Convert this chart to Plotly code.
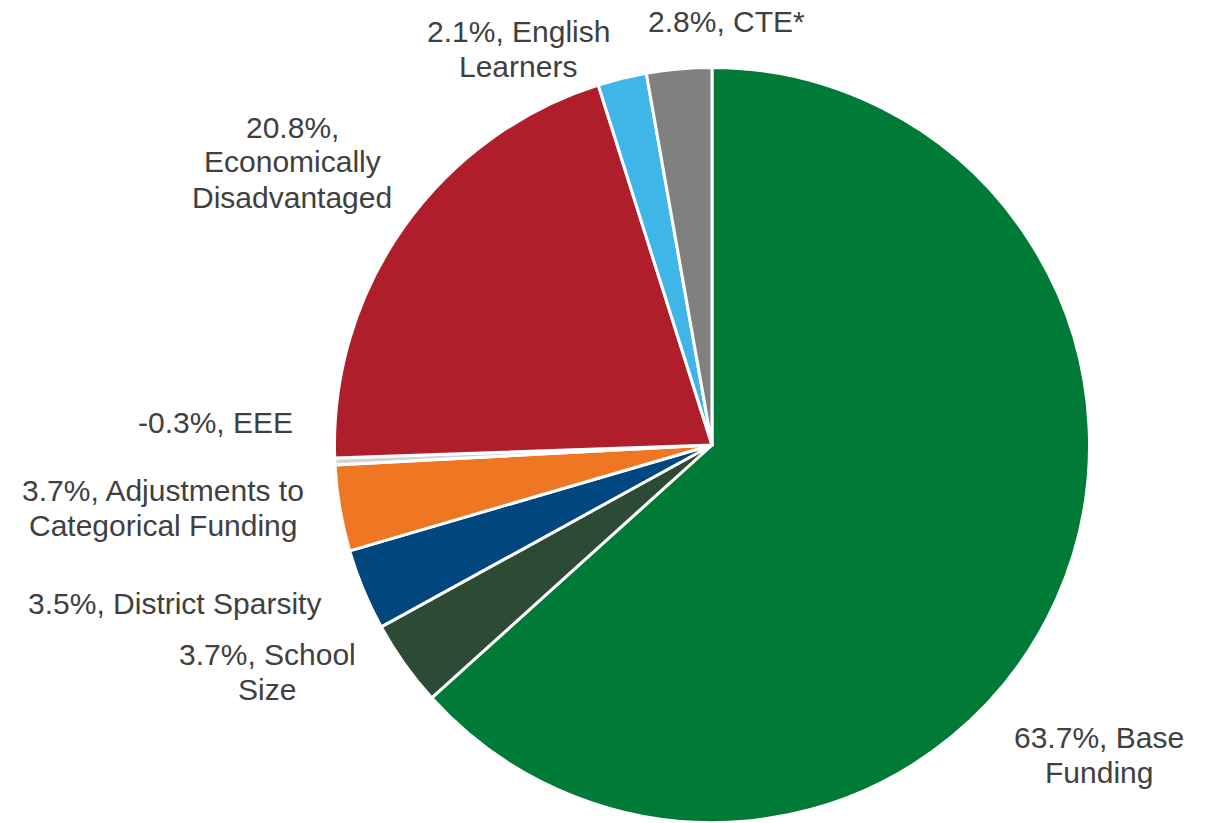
import numpy as np
import plotly.graph_objects as go

# ---- data ----
categories = ["Base Funding", "School Size", "District Sparsity",
              "Adjustments to Categorical Funding", "EEE",
              "Economically Disadvantaged", "English Learners", "CTE*"]
shares = [63.7, 3.7, 3.5, 3.7, -0.3, 20.8, 2.1, 2.8]

# ---- styles ----
colors = ["#007A37", "#2C4A34", "#00467F", "#EF7622", "#D4D4D4",
          "#B01E2B", "#3FB6E8", "#808080"]
# how each label is broken into lines ("{p}" = percentage text)
label_lines = {
    "Base Funding": ["{p}, Base", "Funding"],
    "School Size": ["{p}, School", "Size"],
    "District Sparsity": ["{p}, District Sparsity"],
    "Adjustments to Categorical Funding": ["{p}, Adjustments to", "Categorical Funding"],
    "EEE": ["{p}, EEE"],
    "Economically Disadvantaged": ["{p},", "Economically", "Disadvantaged"],
    "English Learners": ["{p}, English", "Learners"],
    "CTE*": ["{p}, CTE*"],
}
# label block centres in page pixels (x, y from top)
label_pos = {
    "Base Funding": (1099, 755),
    "School Size": (267, 672),
    "District Sparsity": (174, 603),
    "Adjustments to Categorical Funding": (163, 508),
    "EEE": (215, 422),
    "Economically Disadvantaged": (292, 162),
    "English Learners": (518, 49),
    "CTE*": (727, 22),
}
LINE_H = 35
PAGE_OFF = 8          # default body margin of the html page
W, H = 1207, 823
cx, cy, r = 712, 445, 377.5


def to_paper(px, py):
    return (px - PAGE_OFF) / W, 1 - (py - PAGE_OFF) / H


x0, _ = to_paper(cx - r, 0)
x1, _ = to_paper(cx + r, 0)
_, y0 = to_paper(0, cy + r)
_, y1 = to_paper(0, cy - r)

fig = go.Figure(go.Pie(
    labels=categories,
    values=np.abs(shares),
    sort=False,
    direction="clockwise",
    rotation=0,
    textinfo="none",
    marker=dict(colors=colors, line=dict(color="white", width=3)),
    domain=dict(x=[x0, x1], y=[y0, y1]),
    showlegend=False,
))

for name, v in zip(categories, shares):
    px, py = label_pos[name]
    lines = label_lines[name]
    n = len(lines)
    for i, ln in enumerate(lines):
        ly = py + (i - (n - 1) / 2) * LINE_H
        xp, yp = to_paper(px, ly)
        fig.add_annotation(x=xp, y=yp, xref="paper", yref="paper",
                           text=ln.format(p=f"{v:.1f}%"), showarrow=False,
                           xanchor="center", yanchor="middle",
                           font=dict(family="Liberation Sans, Arial, sans-serif",
                                     size=30, color="#404040"))

fig.update_layout(width=W, height=H, margin=dict(l=0, r=0, t=0, b=0),
                  paper_bgcolor="white", plot_bgcolor="white")
fig.write_html("out.html")
